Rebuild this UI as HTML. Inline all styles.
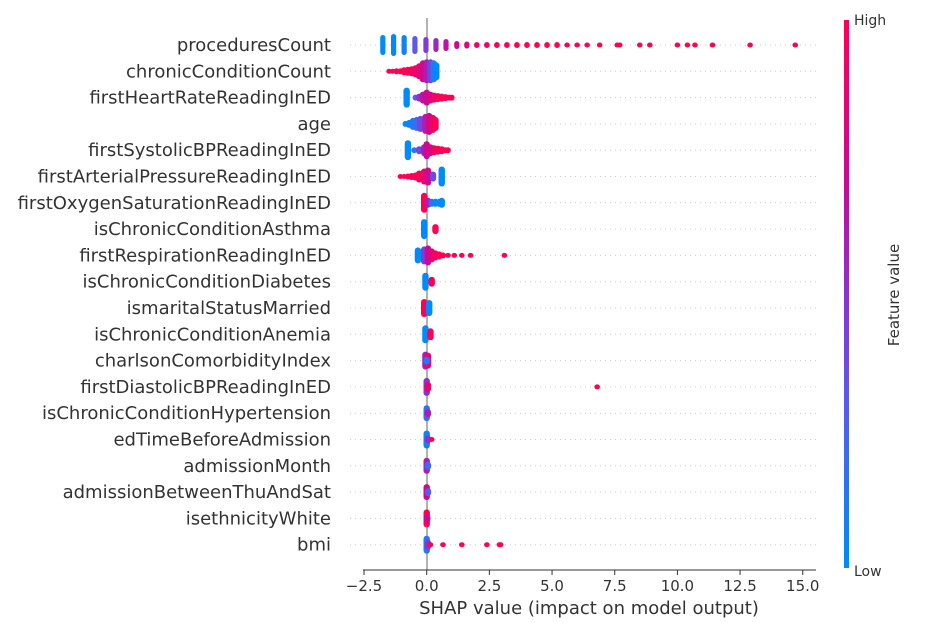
<!DOCTYPE html>
<html><head><meta charset="utf-8">
<style>
body{margin:0;background:#fff;}
svg{display:block;font-family:"DejaVu Sans","Liberation Sans",sans-serif;}
</style></head>
<body>
<svg id="chart" width="943" height="623" viewBox="0 0 943 623">
<defs>
<linearGradient id="cb" x1="0" y1="1" x2="0" y2="0">
<stop offset="0" stop-color="rgb(0,138,250)"/>
<stop offset="0.3" stop-color="rgb(90,90,240)"/>
<stop offset="0.5" stop-color="rgb(140,50,205)"/>
<stop offset="0.7" stop-color="rgb(200,10,150)"/>
<stop offset="1" stop-color="rgb(255,0,82)"/>
</linearGradient>
</defs>
<g id="grid"></g>
<line x1="427" y1="18" x2="427" y2="570" stroke="#999" stroke-width="1.5"/>
<g id="labels"></g>
<g id="marks"></g>
<g id="xaxis"></g>
<text x="589" y="614" font-size="18" fill="#333" text-anchor="middle">SHAP value (impact on model output)</text>
<rect x="844" y="20" width="5" height="548" fill="url(#cb)"/>
<text x="854" y="25" font-size="14" fill="#333">High</text>
<text x="854" y="576" font-size="14" fill="#333">Low</text>
<text x="899" y="295" font-size="15" fill="#333" text-anchor="middle" transform="rotate(-90 899 295)">Feature value</text>
</svg>
<script>
const features=["proceduresCount","chronicConditionCount","firstHeartRateReadingInED","age","firstSystolicBPReadingInED","firstArterialPressureReadingInED","firstOxygenSaturationReadingInED","isChronicConditionAsthma","firstRespirationReadingInED","isChronicConditionDiabetes","ismaritalStatusMarried","isChronicConditionAnemia","charlsonComorbidityIndex","firstDiastolicBPReadingInED","isChronicConditionHypertension","edTimeBeforeAdmission","admissionMonth","admissionBetweenThuAndSat","isethnicityWhite","bmi"];
const xTicks=[-2.5,0,2.5,5,7.5,10,12.5,15];
const xTickLabels=["\u22122.5","0.0","2.5","5.0","7.5","10.0","12.5","15.0"];
// each point: [shap value, spread (half-height px), feature value 0=low..1=high]
const row0=[[-1.75,10,0],[-1.32,11,0],[-0.9,10,0.05],[-0.47,9,0.3],[-0.03,8,0.45],[0.37,7,0.55],[0.77,6,0.65],[1.2,4,0.75],[1.6,3.5,0.82],[2.0,3,0.88],[2.4,3,0.93],[2.8,3,0.97],[3.2,3,1],[3.6,3,1],[4.0,3,1],[4.4,3,1],[4.8,3,1],[5.2,3,1],[5.6,2.5,1],[6.0,2.5,1],[6.4,2.5,1],[6.9,2.5,1],[7.6,2.5,1],[7.7,2.5,1],[8.5,2.5,1],[8.9,2.5,1],[10.0,2.5,1],[10.4,2.5,1],[10.7,2.5,1],[11.4,2.5,1],[12.9,2.5,1],[14.7,2.5,1]];
const row1=[[-1.5,2.5,1],[-1.35,2.5,1],[-1.2,3,1],[-1.05,3,1],[-0.9,4,1],[-0.75,4.5,1],[-0.6,5,0.95],[-0.45,6,0.9],[-0.3,8,0.85],[-0.15,11,0.75],[0,12,0.6],[0.15,12,0.4],[0.28,11,0.1],[0.38,9,0]];
const row2=[[-0.8,10,0],[-0.45,3,0.3],[-0.3,4,0.5],[-0.15,6,0.65],[0,8,0.7],[0.15,6,0.8],[0.3,5,0.9],[0.45,4.5,1],[0.6,4,1],[0.75,3.5,1],[0.9,3,1],[1.0,3,1]];
const row3=[[-0.85,3,0],[-0.7,4,0.02],[-0.55,6,0.1],[-0.4,7,0.2],[-0.25,8,0.4],[-0.05,10,0.6],[0.1,11,0.75],[0.25,9,0.9],[0.35,7,1]];
const row4=[[-0.75,10,0],[-0.5,3,0.1],[-0.3,4,0.4],[-0.1,6,0.6],[0,9,0.7],[0.15,6,0.8],[0.3,5,0.9],[0.45,4.5,1],[0.6,4,1],[0.75,3,1],[0.85,3,1]];
const row5=[[-1.05,2.5,1],[-0.9,2.5,1],[-0.75,3,1],[-0.6,3.5,1],[-0.45,4,1],[-0.3,6,0.95],[-0.1,8,0.85],[0.05,9,0.75],[0.25,5,0.4],[0.6,10,0]];
const row6=[[-0.1,10,1],[0.05,5,0.6],[0.2,4,0.2],[0.35,4,0],[0.5,4,0],[0.6,5,0]];
const row7=[[-0.1,10,0],[0.35,5,1]];
const row8=[[-0.35,8,0],[-0.1,9,0.45],[0.05,10,0.7],[0.2,7,0.85],[0.35,5,0.95],[0.5,4,1],[0.65,3,1],[0.85,2.5,1],[1.1,2.5,1],[1.4,2.5,1],[1.75,2.5,1],[3.1,2.5,1]];
const row9=[[-0.05,9,0],[0.2,5,1]];
const row10=[[-0.1,9,1],[0.1,8,0]];
const row11=[[-0.05,9,0],[0.15,6,1]];
const row12=[[-0.05,9,0.6],[0.05,8,0.9],[0,4,0.1]];
const row13=[[0,9,0.5],[0.05,5,0.9],[6.8,2.5,1]];
const row14=[[0,8,0.2],[0.05,4,0.6]];
const row15=[[0,9,0.05],[0.05,4,0.5],[0.2,2.5,1]];
const row16=[[0,8,0.6],[0.05,4,0.2]];
const row17=[[0,8,0.7],[0.05,4,0.3]];
const row18=[[0,9,1],[0.02,4,0.7]];
const row19=[[0,9,0.1],[0.05,5,0.5],[0.15,2.5,1],[0.65,2.5,1],[1.4,2.5,1],[2.4,2.5,1],[2.9,2.5,1],[2.95,2.5,1]];
const rows=[row0,row1,row2,row3,row4,row5,row6,row7,row8,row9,row10,row11,row12,row13,row14,row15,row16,row17,row18,row19];

const NS="http://www.w3.org/2000/svg";
function xScale(v){return 426.7+v*25.07;}
function yScale(i){return 45+i*26.3;}
function color(t){
  const st=[[0,0,138,250],[0.3,90,90,240],[0.5,140,50,205],[0.7,200,10,150],[1,255,0,82]];
  for(let k=1;k<st.length;k++){if(t<=st[k][0]){const a=st[k-1],b=st[k],f=(t-a[0])/(b[0]-a[0]);
    return `rgb(${Math.round(a[1]+f*(b[1]-a[1]))},${Math.round(a[2]+f*(b[2]-a[2]))},${Math.round(a[3]+f*(b[3]-a[3]))})`;}}
  return "rgb(255,0,82)";
}
function mk(tag,attrs,parent){const e=document.createElementNS(NS,tag);for(const k in attrs)e.setAttribute(k,attrs[k]);parent.appendChild(e);return e;}
const grid=document.getElementById('grid'),labels=document.getElementById('labels'),marks=document.getElementById('marks'),xaxis=document.getElementById('xaxis');
features.forEach((f,i)=>{
  const y=yScale(i);
  const g=mk('line',{x1:350,x2:816,y1:y,y2:y,stroke:'#ccc','stroke-width':1,'stroke-dasharray':'1,4'},grid);
  
  
  const t=mk('text',{x:331,y:y+6,'font-size':18,fill:'#333','text-anchor':'end'},labels);
  t.textContent=f;
  
  
  rows[i].forEach(p=>{
    const h=p[1],w=h<=3?2.8:(i===0?2.6:3.2);
    const r=mk('rect',{x:xScale(p[0])-w,y:y-h,width:2*w,height:2*h,rx:w,ry:Math.min(w,h),fill:color(p[2])},marks);
    
    
  });
});
const ax=mk('line',{x1:363,x2:816,y1:570,y2:570,stroke:'#333','stroke-width':1},xaxis);


xTicks.forEach((v,k)=>{
  const x=xScale(v);
  const tk=mk('line',{x1:x,x2:x,y1:570,y2:575,stroke:'#333'},xaxis);
  
  
  const tl=mk('text',{x:x,y:591,'font-size':15,fill:'#333','text-anchor':'middle'},xaxis);
  tl.textContent=xTickLabels[k];
  
  
});
</script>
</body></html>
